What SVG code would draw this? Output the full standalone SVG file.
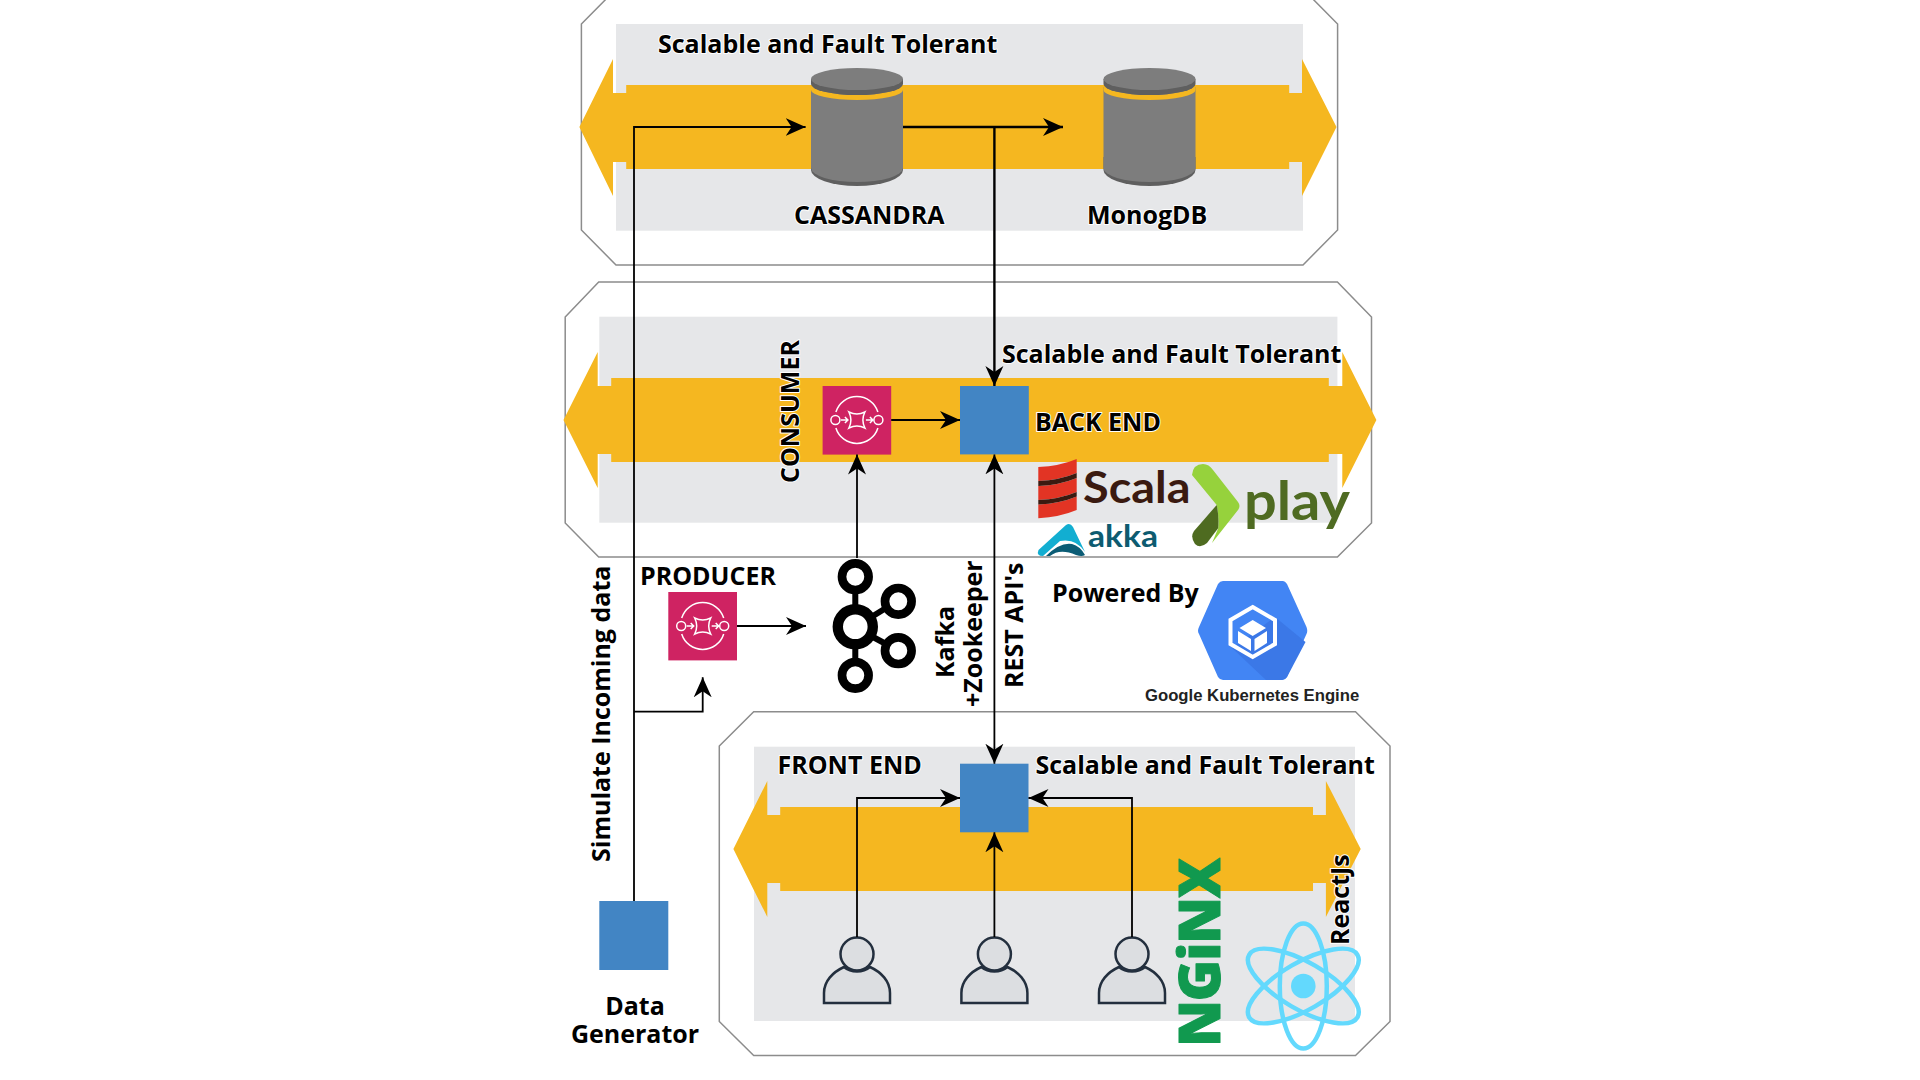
<svg xmlns="http://www.w3.org/2000/svg" width="1920" height="1080" viewBox="0 0 1920 1080">
<style>
.oct{fill:#fff;stroke:#8c8c8c;stroke-width:1.5}
.grey{fill:#e6e7e9}
.band{fill:#f5b720}
.blue{fill:#4285c4}
.pink{fill:#cf2362}
.dark{fill:#5f5f5f}
.body{fill:#7d7d7d}
.t{font-family:"Open Sans","Noto Sans",sans-serif;font-weight:700;font-size:25px;fill:#000;paint-order:stroke;stroke:#fff;stroke-width:2px;stroke-linejoin:round}
.c{stroke:#000;stroke-width:1.8;fill:none}
.sqs{fill:none;stroke:#fff;stroke-width:1.5}
.person{fill:#dcdee1;stroke:#232f3e;stroke-width:2.5}
.kafka{fill:none;stroke:#000}
.ring{fill:none;stroke:#63d9fd;stroke-width:4.5}
</style>
<defs>
<marker id="a" markerUnits="userSpaceOnUse" markerWidth="22" markerHeight="22" refX="20" refY="10" orient="auto-start-reverse"><path d="M20,10 L0,1 L6,10 L0,19 Z" fill="#000"/></marker>
<g id="sqsIcon">
<path class="sqs" d="M-21,-8 A22,22 0 0 1 21,-8 M-21,8 A22,22 0 0 0 21,8 M-16,0 H-9 M-12,-3 L-9,0 L-12,3 M9,0 H16 M13,-3 L16,0 L13,3"/>
<circle class="sqs" cx="-21.5" cy="0" r="4.5"/><circle class="sqs" cx="21.5" cy="0" r="4.5"/>
<path class="sqs" d="M-8,-8 Q0,-4 8,-8 Q4,0 8,8 Q0,4 -8,8 Q-4,0 -8,-8 Z"/>
</g>
<g id="cyl">
<path class="dark" d="M-46,30 V43 A46,16 0 0 0 46,43 V30 Z"/>
<path class="body" d="M-46,-40 V41 A46,14 0 0 0 46,41 V-40 Z"/>
<path class="band" d="M-46,-43 A46,11 0 0 0 46,-43 V-37 A46,10 0 0 1 -46,-37 Z"/>
<path class="dark" d="M-46,-48 V-43 A46,11 0 0 0 46,-43 V-48 Z"/>
<ellipse class="body" cx="0" cy="-48" rx="46" ry="11"/>
</g>
<g id="person">
<path class="person" d="M-33,28 V18 C-33,6 -24,-3 -13,-8 C-6,-2 6,-2 13,-8 C24,-3 33,6 33,18 V28 Z"/>
<circle class="person" cx="0" cy="-21" r="16.5"/>
</g>
</defs>
<rect width="1920" height="1080" fill="#fff"/>

<g id="tier-database">
<path class="oct" d="M581.4,24 L616,-11 H1303 L1337.6,24 V230 L1303,265 H616 L581.4,230 Z"/>
<rect class="grey" x="616" y="24" width="687" height="206.7"/>
<path class="band" d="M579.4,127 L613,59 V93 H626.2 V85 H1289.2 V93 H1302 V59 L1336.5,127 L1302,196 V162 H1289.2 V169 H626.2 V162 H613 V196 Z"/>
</g>
<g id="tier-backend">
<path class="oct" d="M565.2,317 L598.7,282 H1337.4 L1371.5,317 V523 L1337.4,557 H598.7 L565.2,523 Z"/>
<rect class="grey" x="599.3" y="316.7" width="738.1" height="206"/>
<path class="band" d="M563.5,420 L597.7,352 V386 H611.2 V378 H1328.8 V386 H1342.3 V352 L1376.4,420 L1342.3,488 V454 H1328.8 V462 H611.2 V454 H597.7 V488 Z"/>
</g>
<g id="tier-frontend">
<path class="oct" d="M719.3,746 L753.7,711.7 H1355.5 L1390,746 V1021.5 L1355.5,1055.5 H753.7 L719.3,1021.5 Z"/>
<rect class="grey" x="754" y="746.7" width="601" height="274.3"/>
<path class="band" d="M733.4,849 L767.3,781 V815 H780.2 V807 H1313 V815 H1325.9 V781 L1360.7,849 L1325.9,917 V883 H1313 V891 H780.2 V883 H767.3 V917 Z"/>
</g>

<g id="cassandra"><use href="#cyl" x="857" y="127"/></g>
<g id="mongodb"><use href="#cyl" x="1149.5" y="127"/></g>
<g id="consumer"><rect class="pink" x="822.6" y="386" width="68.6" height="68.6"/><use href="#sqsIcon" x="856.9" y="420"/></g>
<g id="backend"><rect class="blue" x="960" y="386" width="68.8" height="68.4"/></g>
<g id="producer"><rect class="pink" x="668.3" y="592" width="68.7" height="68.4"/><use href="#sqsIcon" x="702.7" y="626"/></g>
<g id="frontend"><rect class="blue" x="960" y="763.7" width="68.5" height="68.6"/></g>
<g id="generator"><rect class="blue" x="599.3" y="901" width="69" height="69"/></g>
<g id="kafka">
<circle class="kafka" cx="855.3" cy="626.7" r="17.5" stroke-width="10.4"/>
<circle class="kafka" cx="855.3" cy="576.7" r="13.3" stroke-width="8.7"/>
<circle class="kafka" cx="855.3" cy="675.3" r="13.3" stroke-width="8.7"/>
<circle class="kafka" cx="898.3" cy="601.3" r="13.3" stroke-width="8.7"/>
<circle class="kafka" cx="898.3" cy="650.7" r="13.3" stroke-width="8.7"/>
<path class="kafka" stroke-width="6" d="M855.3,590 V606 M855.3,647 V662 M873,616 L886,608 M873,637 L886,644"/>
</g>
<g id="user1"><use href="#person" x="857" y="975"/></g>
<g id="user2"><use href="#person" x="994.4" y="975"/></g>
<g id="user3"><use href="#person" x="1132" y="975"/></g>

<g id="connectors">
<path class="c" d="M634,901 V127 H805.6" marker-end="url(#a)"/>
<path class="c" d="M634,711.7 H702.7 V677.3" marker-end="url(#a)"/>
<path class="c" style="stroke-width:2.4" d="M903,127 H1063" marker-end="url(#a)"/>
<path class="c" style="stroke-width:2.4" d="M994.4,127 V386" marker-end="url(#a)"/>
<path class="c" d="M891.2,420 H960" marker-end="url(#a)"/>
<path class="c" d="M857,558 V454.6" marker-end="url(#a)"/>
<path class="c" d="M737,626 H806" marker-end="url(#a)"/>
<path class="c" d="M994.4,454.4 V763.7" marker-start="url(#a)" marker-end="url(#a)"/>
<path class="c" d="M857,937 V798 H960" marker-end="url(#a)"/>
<path class="c" d="M994.4,937 V832.3" marker-end="url(#a)"/>
<path class="c" d="M1132,937 V798 H1028.5" marker-end="url(#a)"/>
</g>

<g id="scala-logo">
<path fill="#e23424" d="M1038.3,467 Q1060,466 1076.7,459 V473 Q1060,480 1038.3,481 Z M1038.3,486 Q1060,485 1076.7,478 V492 Q1060,499 1038.3,500 Z M1038.3,504.5 Q1060,503.5 1076.7,496.5 V510 Q1060,517 1038.3,518.3 Z"/>
<path fill="#3a1a10" d="M1038.3,481 Q1060,480 1076.7,473 V478 Q1060,485 1038.3,486 Z M1038.3,500 Q1060,499 1076.7,492 V496.5 Q1060,503.5 1038.3,504.5 Z"/>
<text x="1083" y="502.7" font-family="Lato,'Open Sans',sans-serif" font-size="44" font-weight="700" fill="#3a1a10" textLength="107.5" lengthAdjust="spacingAndGlyphs">Scala</text>
</g>
<g id="play-logo">
<path fill="#96d23c" d="M1192,475 Q1193,464 1203,464 Q1209,464 1213,470 L1238,502 Q1241,506 1238,510 L1212,543 L1218.3,528 Q1219,515 1216.7,505 Z"/>
<path fill="#4e6b20" d="M1216.7,505 Q1219,515 1218.3,528 L1207,543 Q1200,549 1195,544 Q1190,537 1194,531 Z"/>
<text x="1244" y="520" font-family="Lato,'Open Sans',sans-serif" font-size="53" font-weight="700" fill="#4f6b22" textLength="106" lengthAdjust="spacingAndGlyphs">play</text>
</g>
<g id="akka-logo">
<path fill="#12aed1" d="M1038.5,550 L1066,525 Q1070,522 1073,527 L1085,552 Q1076,538 1060,541 L1043,556 Q1036,556 1038.5,550 Z"/>
<path fill="#0b5c75" d="M1046,556 Q1060,542 1072,544 Q1080,546 1085,555 Q1082,557 1076,555 Q1060,548 1050,556 Z"/>
<text x="1088" y="547.3" font-family="Lato,'Open Sans',sans-serif" font-size="30" font-weight="700" fill="#0d5b70" textLength="70" lengthAdjust="spacingAndGlyphs">akka</text>
</g>

<g id="gke">
<path fill="#4285f4" d="M1223,581 H1283 Q1285,581 1287,584 L1306.5,627 Q1308,631 1306.5,634 L1287,677 Q1285,680 1282,680 H1223 Q1220,680 1218,677 L1199,634 Q1197,631 1199,627 L1218,584 Q1220,581 1223,581 Z"/>
<path fill="#3b78e7" d="M1275,617 L1305.5,642 L1287,677 Q1285,680 1282,680 H1266 L1232,648 Z"/>
<path fill="none" stroke="#fff" stroke-width="4" d="M1252.7,607 L1275,620 V644 L1252.7,657 L1230.5,644 V620 Z"/>
<path fill="#fff" d="M1252.7,620 L1266,628 L1252.7,636 L1239.5,628 Z M1238,631 L1251,639 V651 L1238,643 Z M1267,631 L1254.5,639 V651 L1267,643 Z"/>
</g>

<g id="nginx-logo"><text transform="translate(1220,1046.7) rotate(-90)" font-family="'Open Sans',sans-serif" font-weight="800" font-size="56" fill="#11994f" stroke="#11994f" stroke-width="1" stroke-linejoin="round" textLength="189" lengthAdjust="spacing">NGiNX</text></g>
<g id="react-logo">
<ellipse class="ring" cx="1303.3" cy="986" rx="62.5" ry="23.5" transform="rotate(90 1303.3 986)"/>
<ellipse class="ring" cx="1303.3" cy="986" rx="62.5" ry="23.5" transform="rotate(30 1303.3 986)"/>
<ellipse class="ring" cx="1303.3" cy="986" rx="62.5" ry="23.5" transform="rotate(-30 1303.3 986)"/>
<circle cx="1303.3" cy="986" r="12.3" fill="#63d9fd"/>
</g>

<g id="labels">
<text class="t" x="658" y="52.5">Scalable and Fault Tolerant</text>
<text class="t" x="794" y="224">CASSANDRA</text>
<text class="t" x="1087" y="224">MonogDB</text>
<text class="t" x="1002" y="362.5">Scalable and Fault Tolerant</text>
<text class="t" x="1035" y="430.5">BACK END</text>
<text class="t" transform="translate(799,483) rotate(-90)">CONSUMER</text>
<text class="t" x="640" y="585.3">PRODUCER</text>
<text class="t" x="1052" y="601.7">Powered By</text>
<text x="1145" y="700.7" font-family="'Liberation Sans',Arial,sans-serif" font-weight="700" font-size="16.7" fill="#222">Google Kubernetes Engine</text>
<text class="t" transform="translate(610,862) rotate(-90)">Simulate Incoming data</text>
<text class="t" transform="translate(954.3,678) rotate(-90)">Kafka</text>
<text class="t" transform="translate(981.7,707) rotate(-90)">+Zookeeper</text>
<text class="t" transform="translate(1022.7,688) rotate(-90)">REST API's</text>
<text class="t" x="777.5" y="774">FRONT END</text>
<text class="t" x="1035.5" y="774">Scalable and Fault Tolerant</text>
<text class="t" transform="translate(1349.3,945) rotate(-90)">ReactJs</text>
<text class="t" x="635" y="1015" text-anchor="middle">Data</text>
<text class="t" x="635" y="1043" text-anchor="middle">Generator</text>
</g>
</svg>
